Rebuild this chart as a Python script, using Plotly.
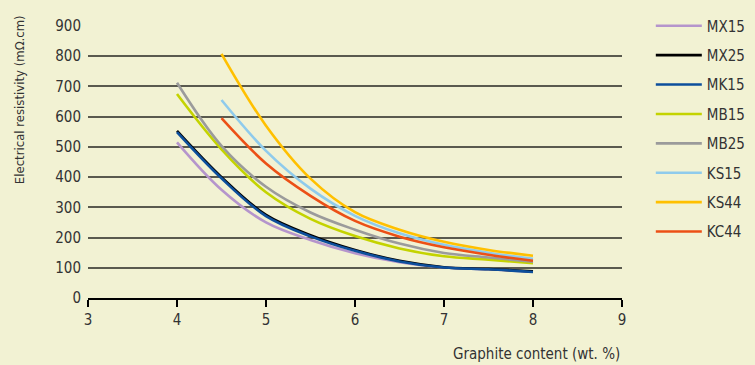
import plotly.graph_objects as go

# Data
x_m = [4, 4.5, 5, 5.5, 6, 6.5, 7, 7.5, 8]
x_k = [4.5, 5, 5.5, 6, 6.5, 7, 7.5, 8]

mx15 = [515, 358, 250, 192, 148, 118, 101, 95, 87]
mx25 = [553, 400, 275, 208, 159, 123, 102, 96, 88]
mk15 = [549, 396, 271, 204, 156, 121, 101, 95, 86]
mb15 = [675, 492, 350, 262, 205, 164, 138, 127, 115]
mb25 = [712, 503, 368, 283, 226, 180, 149, 134, 120]
ks15 = [655, 487, 362, 272, 214, 176, 150, 130]
ks44 = [808, 570, 395, 284, 226, 186, 159, 140]
kc44 = [595, 445, 338, 255, 203, 168, 143, 123]

y_ticks = [0, 100, 200, 300, 400, 500, 600, 700, 800, 900]
x_ticks = [3, 4, 5, 6, 7, 8, 9]

series = [
    ("MX15", x_m, mx15, "#b595cc"),
    ("MX25", x_m, mx25, "#000000"),
    ("MK15", x_m, mk15, "#0d4f9c"),
    ("MB15", x_m, mb15, "#c4d300"),
    ("MB25", x_m, mb25, "#9b9b9b"),
    ("KS15", x_k, ks15, "#8fcbec"),
    ("KS44", x_k, ks44, "#ffc000"),
    ("KC44", x_k, kc44, "#ec5016"),
]

FONT = "Liberation Sans Narrow, DejaVu Sans Condensed, Arial Narrow, sans-serif"
BG = "#f2f2d3"

fig = go.Figure()
for name, xs, ys, col in series:
    fig.add_trace(go.Scatter(
        x=xs, y=ys, name=name, mode="lines", legendgroup=name,
        line=dict(color=col, width=2.6, shape="spline", smoothing=1.0),
    ))

fig.update_layout(
    width=755, height=365,
    margin=dict(l=88, r=133, t=26, b=67),
    paper_bgcolor=BG, plot_bgcolor=BG,
    font=dict(family=FONT, size=15, color="#333333"),
    showlegend=True,
    legend=dict(
        xref="container", yref="container",
        x=0.862, xanchor="left", y=0.974, yanchor="top",
        bgcolor="rgba(0,0,0,0)", tracegroupgap=6.9,
        font=dict(family=FONT, size=15, color="#333333"),
        itemwidth=46, maxheight=1,
    ),
    xaxis=dict(
        range=[3, 9], tickvals=x_ticks, showgrid=False, zeroline=False,
        showline=True, linecolor="#000000", linewidth=1.5,
        ticks="outside", ticklen=7, tickcolor="#000000", tickwidth=1.5,
        tickfont=dict(family=FONT, size=15, color="#333333"),
    ),
    yaxis=dict(
        range=[0, 900], tickvals=y_ticks, showgrid=True,
        gridcolor="#5a5a4e", gridwidth=1.6, zeroline=False, showline=False,
        ticks="", tickfont=dict(family=FONT, size=15, color="#333333"),
        ticklabelstandoff=6,
    ),
    annotations=[
        dict(text="Graphite content (wt. %)", xref="paper", yref="paper",
             x=1.0, y=-0.165, xanchor="right", yanchor="top", showarrow=False,
             font=dict(family=FONT, size=15, color="#333333")),
        dict(text="Electrical resistivity (mΩ.cm)", xref="paper", yref="paper",
             x=-0.127, y=0.728, xanchor="center", yanchor="middle", textangle=-90,
             showarrow=False, font=dict(family=FONT, size=13, color="#333333")),
    ],
)

fig.write_html(
    "out.html",
    config={"displayModeBar": False},
    post_script="document.body.style.margin='0';document.body.style.overflow='hidden';",
)
